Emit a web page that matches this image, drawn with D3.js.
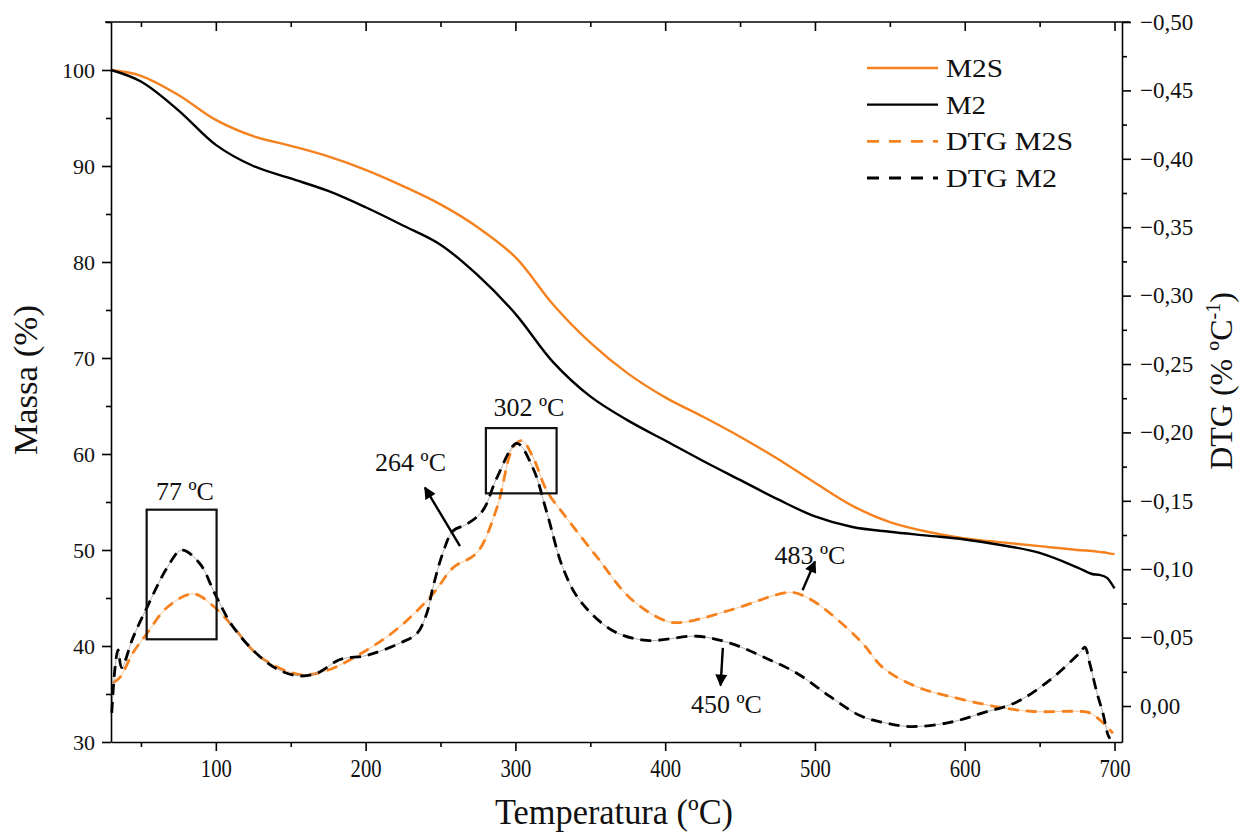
<!DOCTYPE html>
<html>
<head>
<meta charset="utf-8">
<script src="https://cdn.jsdelivr.net/npm/d3@7"></script>
<style>
  html, body { margin: 0; padding: 0; background: #fff; }
  svg { display: block; }
  text { font-family: "Liberation Serif", "Times New Roman", serif; fill: #111; }
</style>
</head>
<body>
<svg id="chart" width="1241" height="834"></svg>
<script>
// ---------- DATA ----------
const tempMass = [30, 50, 75, 100, 125, 150, 175, 200, 225, 250, 275, 300, 325, 350, 375, 400, 425, 450, 475, 500, 525, 550, 575, 600, 625, 650, 675, 685, 690, 695, 698, 700];
const massM2S  = [100, 99.4, 97.4, 94.8, 93.1, 92.1, 91.0, 89.6, 87.9, 86.0, 83.6, 80.5, 75.6, 71.6, 68.4, 65.9, 63.9, 61.8, 59.5, 57.0, 54.6, 52.9, 51.9, 51.2, 50.8, 50.4, 50.0, 49.9, 49.8, 49.7, 49.6, 49.6];
const massM2   = [100, 98.8, 95.8, 92.2, 90.0, 88.7, 87.4, 85.7, 83.8, 81.8, 78.6, 74.6, 69.6, 66.0, 63.5, 61.4, 59.3, 57.3, 55.3, 53.5, 52.4, 51.9, 51.5, 51.1, 50.5, 49.7, 48.2, 47.5, 47.4, 47.1, 46.5, 46.0];

const tempDtgM2 = [30.5, 32.7, 34.7, 37.1, 44.7, 54.0, 67.4, 77.2, 89.4, 99.4, 111.4, 129.5, 142.8, 156.2, 167.5, 182.9, 200.9, 222.9, 234.3, 240.9, 245.0, 251.6, 258.3, 267.7, 278.3, 287.7, 301.0, 311.7, 321.1, 331.7, 343.1, 365.1, 387.8, 421.2, 443.2, 465.2, 487.9, 510.0, 530.0, 545.4, 563.4, 590.1, 612.1, 634.8, 656.8, 676.9, 680.2, 683.5, 688.2, 692.2, 695.6, 697.0];
const dtgM2     = [0.005, -0.028, -0.041, -0.028, -0.050, -0.072, -0.101, -0.114, -0.104, -0.082, -0.058, -0.036, -0.026, -0.022, -0.024, -0.034, -0.037, -0.046, -0.053, -0.068, -0.087, -0.112, -0.128, -0.133, -0.143, -0.167, -0.192, -0.174, -0.141, -0.101, -0.077, -0.055, -0.048, -0.051, -0.046, -0.036, -0.024, -0.007, 0.007, 0.012, 0.015, 0.012, 0.005, -0.003, -0.019, -0.039, -0.043, -0.031, -0.010, 0.005, 0.021, 0.024];

const tempDtgM2S = [31.3, 36.0, 44.7, 54.0, 67.4, 84.7, 99.4, 111.4, 129.5, 156.2, 174.2, 200.9, 222.9, 245.0, 258.3, 274.3, 287.7, 298.4, 304.4, 311.7, 321.1, 331.7, 354.4, 376.5, 398.5, 409.8, 443.2, 476.6, 485.3, 498.6, 530.0, 545.4, 568.1, 590.1, 623.5, 645.5, 678.9, 683.5, 692.2, 698.9];
const dtgM2S     = [-0.017, -0.021, -0.039, -0.053, -0.072, -0.082, -0.072, -0.058, -0.036, -0.023, -0.026, -0.041, -0.058, -0.082, -0.101, -0.112, -0.145, -0.189, -0.194, -0.182, -0.157, -0.141, -0.109, -0.079, -0.063, -0.061, -0.070, -0.082, -0.083, -0.077, -0.048, -0.028, -0.014, -0.007, 0.001, 0.004, 0.004, 0.005, 0.012, 0.020];

const xTicks      = [100, 200, 300, 400, 500, 600, 700];
const xMinorTicks = [50, 150, 250, 350, 450, 550, 650];
const massTicks      = [30, 40, 50, 60, 70, 80, 90, 100];
const massMinorTicks = [35, 45, 55, 65, 75, 85, 95, 105];
const dtgTicks      = [0, -0.05, -0.10, -0.15, -0.20, -0.25, -0.30, -0.35, -0.40, -0.45, -0.50];
const dtgMinorTicks = [-0.025, -0.075, -0.125, -0.175, -0.225, -0.275, -0.325, -0.375, -0.425, -0.475];

const legendLabels = ["M2S", "M2", "DTG M2S", "DTG M2"];

// annotation boxes (T range, mass range), labels (T, mass), arrows (T,mass -> T,mass)
const annBoxes  = [{t0: 53.8, t1: 100.5, m0: 40.7, m1: 54.2}, {t0: 280.3, t1: 327.5, m0: 55.9, m1: 62.7}];
const annLabels = [
  {text: "77 ºC",  t: 79.4,  m: 55.2},
  {text: "302 ºC", t: 309.0, m: 64.0},
  {text: "264 ºC", t: 230.0, m: 58.2},
  {text: "483 ºC", t: 496.6, m: 48.5},
  {text: "450 ºC", t: 440.9, m: 33.0}
];
const annArrows = [
  {t0: 263.0, m0: 50.4, t1: 239.6, m1: 56.5},
  {t0: 491.7, m0: 45.8, t1: 500.0, m1: 48.8},
  {t0: 438.5, m0: 39.8, t1: 437.0, m1: 35.9}
];

// ---------- CHART ----------
const ORANGE = "#f5821f";
const BLACK = "#000";
const svg = d3.select("#chart");

const L = 111, R = 1122, T = 22, B = 742;
const x  = d3.scaleLinear().domain([30, 705]).range([L, R]);
const yL = d3.scaleLinear().domain([30, 105]).range([B, T]);
const yR = d3.scaleLinear().domain([0.0263, -0.5]).range([B, T]);

const fmtDtg = d => Math.abs(d) < 1e-9 ? "0,00" : "\u2212" + Math.abs(d).toFixed(2).replace(".", ",");

// Arrow marker
const defs = svg.append("defs");
defs.append("marker")
  .attr("id", "arr").attr("viewBox", "0 0 10 10").attr("refX", 9).attr("refY", 5)
  .attr("markerWidth", 6).attr("markerHeight", 5).attr("orient", "auto").attr("markerUnits", "strokeWidth")
  .append("path").attr("d", "M0,0 L10,5 L0,10 Z").attr("fill", "#000");

// Curves
const lineMass = d3.line().x(d => x(d[0])).y(d => yL(d[1])).curve(d3.curveCatmullRom.alpha(0.5));
const lineDtg  = d3.line().x(d => x(d[0])).y(d => yR(d[1])).curve(d3.curveCatmullRom.alpha(0.5));

const zip = (a, b) => a.map((v, i) => [v, b[i]]);

const g = svg.append("g");

// DTG thin underlays + dashed
[[tempDtgM2S, dtgM2S, ORANGE, "#f7b77a"], [tempDtgM2, dtgM2, BLACK, "#9a9a9a"]].forEach(([tt, vv, c, uc]) => {
  const dd = zip(tt, vv);
  g.append("path").attr("d", lineDtg(dd)).attr("fill", "none").attr("stroke", uc).attr("stroke-width", 0.8);
  g.append("path").attr("d", lineDtg(dd)).attr("fill", "none").attr("stroke", c).attr("stroke-width", 2.8)
    .attr("stroke-dasharray", "11,7");
});

// Mass curves
g.append("path").attr("d", lineMass(zip(tempMass, massM2S))).attr("fill", "none").attr("stroke", ORANGE).attr("stroke-width", 2.4);
g.append("path").attr("d", lineMass(zip(tempMass, massM2))).attr("fill", "none").attr("stroke", BLACK).attr("stroke-width", 2.4);

// Axes
const axisStyle = sel => {
  sel.selectAll(".domain").attr("stroke", "#000").attr("stroke-width", 1.6);
  sel.selectAll(".tick line").attr("stroke", "#000").attr("stroke-width", 1.6);
  sel.selectAll("text").attr("font-family", '"Liberation Serif", serif').attr("fill", "#111");
};

// bottom
const gx = svg.append("g").attr("transform", `translate(0,${B})`)
  .call(d3.axisBottom(x).tickValues(xTicks).tickSize(9).tickPadding(8).tickSizeOuter(0));
gx.call(axisStyle);
gx.selectAll("text").attr("font-size", 25).attr("textLength", 31).attr("lengthAdjust", "spacingAndGlyphs");
svg.append("g").attr("transform", `translate(0,${B})`)
  .call(d3.axisBottom(x).tickValues(xMinorTicks).tickSize(5).tickFormat("").tickSizeOuter(0)).call(axisStyle)
  .select(".domain").remove();

// top
const gt = svg.append("g").attr("transform", `translate(0,${T})`)
  .call(d3.axisBottom(x).tickValues(xTicks).tickSize(9).tickFormat("").tickSizeOuter(0));
gt.call(axisStyle);
gt.select(".domain").attr("d", `M${L - 6},0H${R + 8}`);
svg.append("g").attr("transform", `translate(0,${T})`)
  .call(d3.axisBottom(x).tickValues(xMinorTicks).tickSize(5).tickFormat("").tickSizeOuter(0)).call(axisStyle)
  .select(".domain").remove();

// left
const gl = svg.append("g").attr("transform", `translate(${L},0)`)
  .call(d3.axisLeft(yL).tickValues(massTicks).tickSize(9).tickPadding(7).tickSizeOuter(0));
gl.call(axisStyle);
gl.selectAll("text").attr("font-size", 22);
svg.append("g").attr("transform", `translate(${L},0)`)
  .call(d3.axisLeft(yL).tickValues(massMinorTicks).tickSize(5).tickFormat("").tickSizeOuter(0)).call(axisStyle)
  .select(".domain").remove();

// right
const gr = svg.append("g").attr("transform", `translate(${R},0)`)
  .call(d3.axisRight(yR).tickValues(dtgTicks).tickSize(9).tickPadding(9).tickFormat(fmtDtg).tickSizeOuter(0));
gr.call(axisStyle);
gr.selectAll("text").attr("font-size", 23);
svg.append("g").attr("transform", `translate(${R},0)`)
  .call(d3.axisRight(yR).tickValues(dtgMinorTicks).tickSize(5).tickFormat("").tickSizeOuter(0)).call(axisStyle)
  .select(".domain").remove();

// Axis titles
svg.append("text").attr("x", 614).attr("y", 824).attr("text-anchor", "middle")
  .attr("font-size", 36).attr("textLength", 238).attr("lengthAdjust", "spacingAndGlyphs")
  .text("Temperatura (ºC)");
svg.append("text").attr("transform", "translate(37,380) rotate(-90)").attr("text-anchor", "middle")
  .attr("font-size", 33).attr("textLength", 150).attr("lengthAdjust", "spacingAndGlyphs")
  .text("Massa (%)");
const rt = svg.append("text").attr("transform", "translate(1232,381) rotate(-90)").attr("text-anchor", "middle")
  .attr("font-size", 32);
rt.append("tspan").text("DTG (% ºC");
rt.append("tspan").attr("font-size", 20).attr("dy", -12).text("-1");
rt.append("tspan").attr("dy", 12).text(")");

// Legend
const legendStyles = [
  {c: ORANGE, dash: null, w: 57}, {c: BLACK, dash: null, w: 40}, {c: ORANGE, dash: "12,10", w: 127}, {c: BLACK, dash: "12,10", w: 111}
];
const legY = d3.scaleLinear().domain([0, 3]).range([68, 178]);
legendLabels.forEach((lab, i) => {
  const yy = legY(i);
  svg.append("line").attr("x1", 867).attr("x2", 938).attr("y1", yy).attr("y2", yy)
    .attr("stroke", legendStyles[i].c).attr("stroke-width", legendStyles[i].dash ? 2.8 : 2.4)
    .attr("stroke-dasharray", legendStyles[i].dash);
  svg.append("text").attr("x", 946).attr("y", yy + 9).attr("font-size", 26)
    .attr("textLength", legendStyles[i].w).attr("lengthAdjust", "spacingAndGlyphs").text(lab);
});

// Annotations
annBoxes.forEach(b => {
  svg.append("rect").attr("x", x(b.t0)).attr("y", yL(b.m1))
    .attr("width", x(b.t1) - x(b.t0)).attr("height", yL(b.m0) - yL(b.m1))
    .attr("fill", "none").attr("stroke", "#111").attr("stroke-width", 2.2);
});
annLabels.forEach(a => {
  svg.append("text").attr("x", x(a.t)).attr("y", yL(a.m)).attr("text-anchor", "middle")
    .attr("font-size", 26).text(a.text);
});
annArrows.forEach(a => {
  svg.append("line").attr("x1", x(a.t0)).attr("y1", yL(a.m0)).attr("x2", x(a.t1)).attr("y2", yL(a.m1))
    .attr("stroke", "#000").attr("stroke-width", 2.4).attr("marker-end", "url(#arr)");
});
</script>
</body>
</html>
